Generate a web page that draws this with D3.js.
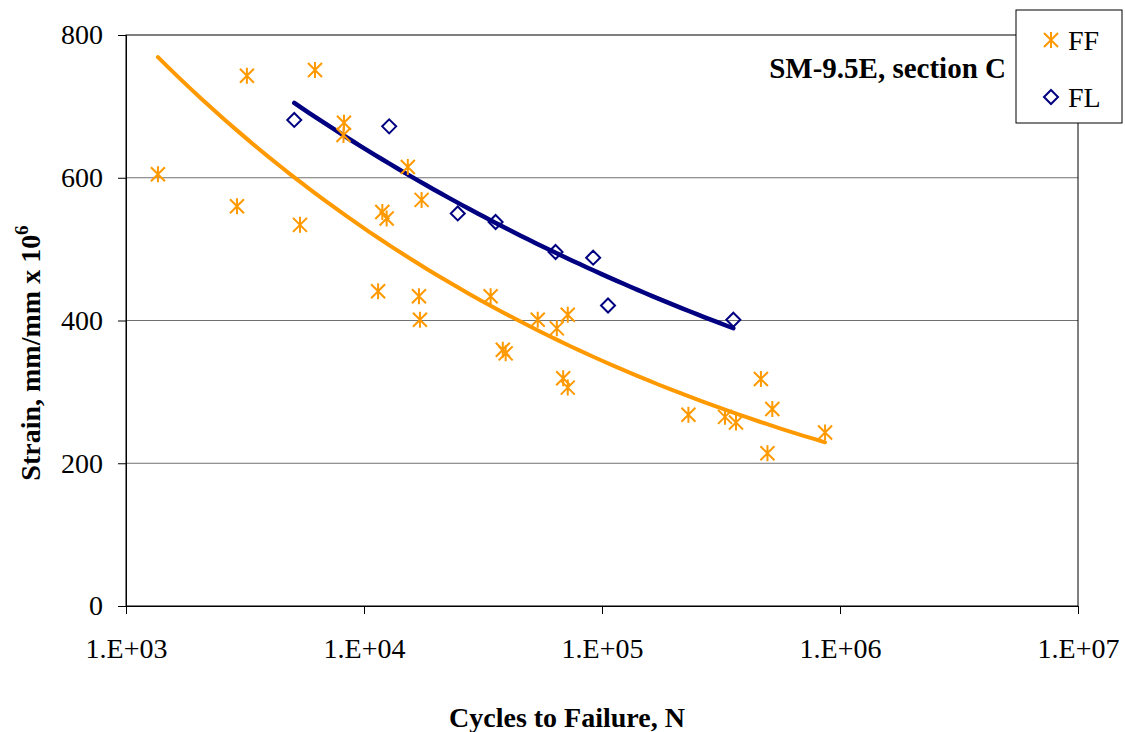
<!DOCTYPE html>
<html lang="en">
  <head>
    <meta charset="utf-8">
    <title>SM-9.5E, section C</title>
    <script src="https://cdn.jsdelivr.net/npm/d3@7"></script>
    <style>
      body { margin: 0; background: #fff; }
      svg text { font-family: "Liberation Serif", "Times New Roman", serif; }
    </style>
  </head>
  <body>
    <script>
      // data: cycles to failure (N) and strain (mm/mm x 10^6)
      var ffCycles = [1362, 2926, 3221, 5383, 6225, 8240, 8200, 11460, 11940, 12450,
                      15280, 17460, 17020, 17180, 34040, 38300, 39370, 53700, 64600, 71800,
                      68700, 71800, 230700, 328700, 365600, 465300, 519500, 495600, 865600];
      var ffStrain = [605, 560, 743, 534, 751, 677, 660, 441, 552, 543,
                      615, 569, 434, 401, 434, 359, 354, 401, 389, 408,
                      319, 306, 268, 265, 257, 318, 276, 214, 243];

      var flCycles = [5093, 12760, 24770, 35720, 63800, 91800, 106000, 356300];
      var flStrain = [681, 672, 550, 538, 496, 488, 421, 401];

      var xTicks = [1e3, 1e4, 1e5, 1e6, 1e7];
      var yTicks = [0, 200, 400, 600, 800];
      var seriesNames = ["FF", "FL"];
      var seriesColors = ["#FF9900", "#000080"];

      var w = 1125, h = 732;
      var margin = { left: 126, right: 47, top: 35, bottom: 126 };
      var pw = w - margin.left - margin.right;
      var ph = h - margin.top - margin.bottom;
      var fontFam = "'Liberation Serif', 'Times New Roman', serif";

      var svg = d3.select("body").append("svg")
                  .attr("width", w)
                  .attr("height", h);

      var xScale = d3.scaleLog().domain([1e3, 1e7]).range([margin.left, margin.left + pw]);
      var yScale = d3.scaleLinear().domain([0, 800]).range([margin.top + ph, margin.top]);

      // gridlines
      svg.append("g").selectAll("line")
         .data(yTicks.filter(function (d) { return d > 0 && d < 800; }))
         .enter().append("line")
         .attr("x1", margin.left).attr("x2", margin.left + pw)
         .attr("y1", function (d) { return yScale(d); })
         .attr("y2", function (d) { return yScale(d); })
         .attr("stroke", "#707070").attr("stroke-width", 1);

      // plot border
      svg.append("rect")
         .attr("x", margin.left).attr("y", margin.top)
         .attr("width", pw).attr("height", ph)
         .attr("fill", "none").attr("stroke", "#000").attr("stroke-width", 1);

      // axes
      var xAxis = d3.axisBottom(xScale)
                    .tickValues(xTicks)
                    .tickSize(8)
                    .tickPadding(24)
                    .tickFormat(function (d) {
                      var e = Math.round(Math.log10(d));
                      return "1.E+" + (e < 10 ? "0" + e : e);
                    });
      var gx = svg.append("g")
                  .attr("transform", "translate(0," + (margin.top + ph) + ")")
                  .call(xAxis);
      gx.select(".domain").attr("stroke", "#000");
      gx.selectAll("line").attr("stroke", "#000");
      gx.selectAll("text")
        .attr("font-size", "28px")
        .attr("fill", "#000")
        .style("font-family", fontFam);

      var yAxis = d3.axisLeft(yScale)
                    .tickValues(yTicks)
                    .tickSize(8)
                    .tickPadding(15);
      var gy = svg.append("g")
                  .attr("transform", "translate(" + margin.left + ",0)")
                  .call(yAxis);
      gy.select(".domain").attr("stroke", "#000");
      gy.selectAll("line").attr("stroke", "#000");
      gy.selectAll("text")
        .attr("font-size", "28px")
        .attr("fill", "#000")
        .style("font-family", fontFam);

      // power trendline fit (least squares on ln-ln, like the spreadsheet)
      function powerFit(xs, ys) {
        var lx = xs.map(Math.log), ly = ys.map(Math.log);
        var mx = d3.mean(lx), my = d3.mean(ly);
        var sxy = d3.sum(lx, function (v, i) { return (v - mx) * (ly[i] - my); });
        var sxx = d3.sum(lx, function (v) { return (v - mx) * (v - mx); });
        var b = sxy / sxx;
        var a = Math.exp(my - b * mx);
        return function (x) { return a * Math.pow(x, b); };
      }

      function trendPoints(xs, ys) {
        var f = powerFit(xs, ys);
        var lo = Math.log10(d3.min(xs)), hi = Math.log10(d3.max(xs));
        return d3.range(0, 61).map(function (i) {
          var x = Math.pow(10, lo + (hi - lo) * i / 60);
          return [x, f(x)];
        });
      }

      var line = d3.line()
                   .x(function (d) { return xScale(d[0]); })
                   .y(function (d) { return yScale(d[1]); });

      svg.append("path")
         .datum(trendPoints(ffCycles, ffStrain))
         .attr("d", line)
         .attr("fill", "none")
         .attr("stroke", seriesColors[0])
         .attr("stroke-width", 4)
         .attr("stroke-linecap", "round");

      svg.append("path")
         .datum(trendPoints(flCycles, flStrain))
         .attr("d", line)
         .attr("fill", "none")
         .attr("stroke", seriesColors[1])
         .attr("stroke-width", 4.5)
         .attr("stroke-linecap", "round");

      // marker shapes
      var starPath = "M-7,-7L7,7M-7,7L7,-7M0,-8L0,8";
      var diamondPath = "M0,-7L7,0L0,7L-7,0Z";

      svg.append("g").selectAll("path")
         .data(d3.zip(ffCycles, ffStrain))
         .enter().append("path")
         .attr("transform", function (d) { return "translate(" + xScale(d[0]) + "," + yScale(d[1]) + ")"; })
         .attr("d", starPath)
         .attr("fill", "none")
         .attr("stroke", seriesColors[0])
         .attr("stroke-width", 2);

      svg.append("g").selectAll("path")
         .data(d3.zip(flCycles, flStrain))
         .enter().append("path")
         .attr("transform", function (d) { return "translate(" + xScale(d[0]) + "," + yScale(d[1]) + ")"; })
         .attr("d", diamondPath)
         .attr("fill", "none")
         .attr("stroke", seriesColors[1])
         .attr("stroke-width", 2);

      // annotation
      svg.append("text")
         .attr("x", 1006).attr("y", 78)
         .attr("text-anchor", "end")
         .attr("font-size", "29px")
         .attr("font-weight", "bold")
         .text("SM-9.5E, section C");

      // axis titles
      svg.append("text")
         .attr("x", 567).attr("y", 727)
         .attr("text-anchor", "middle")
         .attr("font-size", "28px")
         .attr("font-weight", "bold")
         .text("Cycles to Failure, N");

      var yt = svg.append("text")
                  .attr("transform", "translate(40," + 353 + ") rotate(-90)")
                  .attr("text-anchor", "middle")
                  .attr("font-size", "28px")
                  .attr("font-weight", "bold");
      yt.append("tspan").text("Strain, mm/mm x 10");
      yt.append("tspan").attr("dy", -12).attr("font-size", "19px").text("6");

      // legend
      var lg = svg.append("g");
      lg.append("rect")
        .attr("x", 1016).attr("y", 10)
        .attr("width", 106).attr("height", 113)
        .attr("fill", "#fff").attr("stroke", "#000").attr("stroke-width", 1);
      var shapes = [starPath, diamondPath];
      seriesNames.forEach(function (name, i) {
        var cy = 40 + i * 57;
        lg.append("path")
          .attr("transform", "translate(1051," + cy + ")")
          .attr("d", shapes[i])
          .attr("fill", "none")
          .attr("stroke", seriesColors[i])
          .attr("stroke-width", 2);
        lg.append("text")
          .attr("x", 1068).attr("y", cy + 10)
          .attr("font-size", "28px")
          .text(name);
      });
    </script>
  </body>
</html>
